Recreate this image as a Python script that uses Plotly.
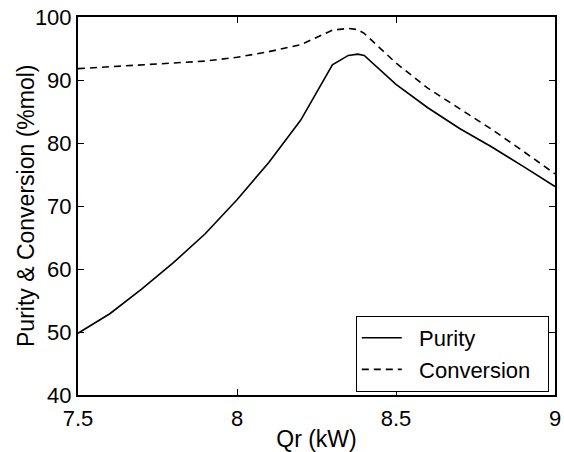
import plotly.graph_objects as go

qr = [7.5, 7.6, 7.7, 7.8, 7.9, 8.0, 8.1, 8.2, 8.3, 8.35, 8.38, 8.4, 8.5, 8.6, 8.7, 8.8, 8.9, 9.0]
purity = [49.8, 52.9, 56.8, 61.0, 65.6, 71.0, 76.9, 83.6, 92.4, 93.9, 94.1, 93.9, 89.3, 85.6, 82.3, 79.4, 76.3, 73.1]
conversion = [91.8, 92.1, 92.3, 92.6, 93.0, 93.6, 94.5, 95.6, 97.9, 98.2, 98.0, 97.4, 92.7, 88.7, 85.4, 82.2, 78.7, 75.1]

x_ticks = [7.5, 8, 8.5, 9]
x_ticktext = ["7.5", "8", "8.5", "9"]
y_ticks = [40, 50, 60, 70, 80, 90, 100]

FONT = "Liberation Sans, Arial, sans-serif"
NB = "\u00a0"

fig = go.Figure()
fig.add_trace(go.Scatter(x=qr, y=purity, mode="lines", name=NB * 2 + "Purity",
                         line=dict(color="black", width=1.6)))
fig.add_trace(go.Scatter(x=qr, y=conversion, mode="lines", name=NB * 2 + "Conversion" + NB * 2,
                         line=dict(color="black", width=1.6, dash="7px,5px")))

axis_common = dict(showgrid=False, zeroline=False, showline=True, linecolor="black",
                   linewidth=2, mirror="ticks", ticks="inside", ticklen=6,
                   tickwidth=1, tickcolor="black", automargin=False,
                   tickfont=dict(family=FONT, size=22, color="black"))

fig.update_xaxes(range=[7.5, 9], tickvals=x_ticks, ticktext=x_ticktext,
                 ticklabelstandoff=3,
                 title=dict(text="Qr (kW)", font=dict(family=FONT, size=23, color="black"), standoff=0),
                 **axis_common)
fig.update_yaxes(range=[40, 100], tickvals=y_ticks, **axis_common)

fig.add_annotation(text="Purity & Conversion (%mol)", textangle=-90,
                   xref="paper", yref="paper", x=0, y=0.5, xshift=-52,
                   xanchor="center", yanchor="middle", showarrow=False,
                   font=dict(family=FONT, size=23, color="black"))

fig.update_layout(
    width=564, height=452,
    margin=dict(l=78, r=9, t=17, b=57),
    paper_bgcolor="white", plot_bgcolor="white",
    font=dict(family=FONT, color="black"),
    legend=dict(x=0.987, y=0.008, xanchor="right", yanchor="bottom",
                bordercolor="black", borderwidth=1, bgcolor="white",
                font=dict(family=FONT, size=22, color="black"),
                tracegroupgap=0, itemwidth=40),
    showlegend=True,
)

fig.write_html("out.html")
